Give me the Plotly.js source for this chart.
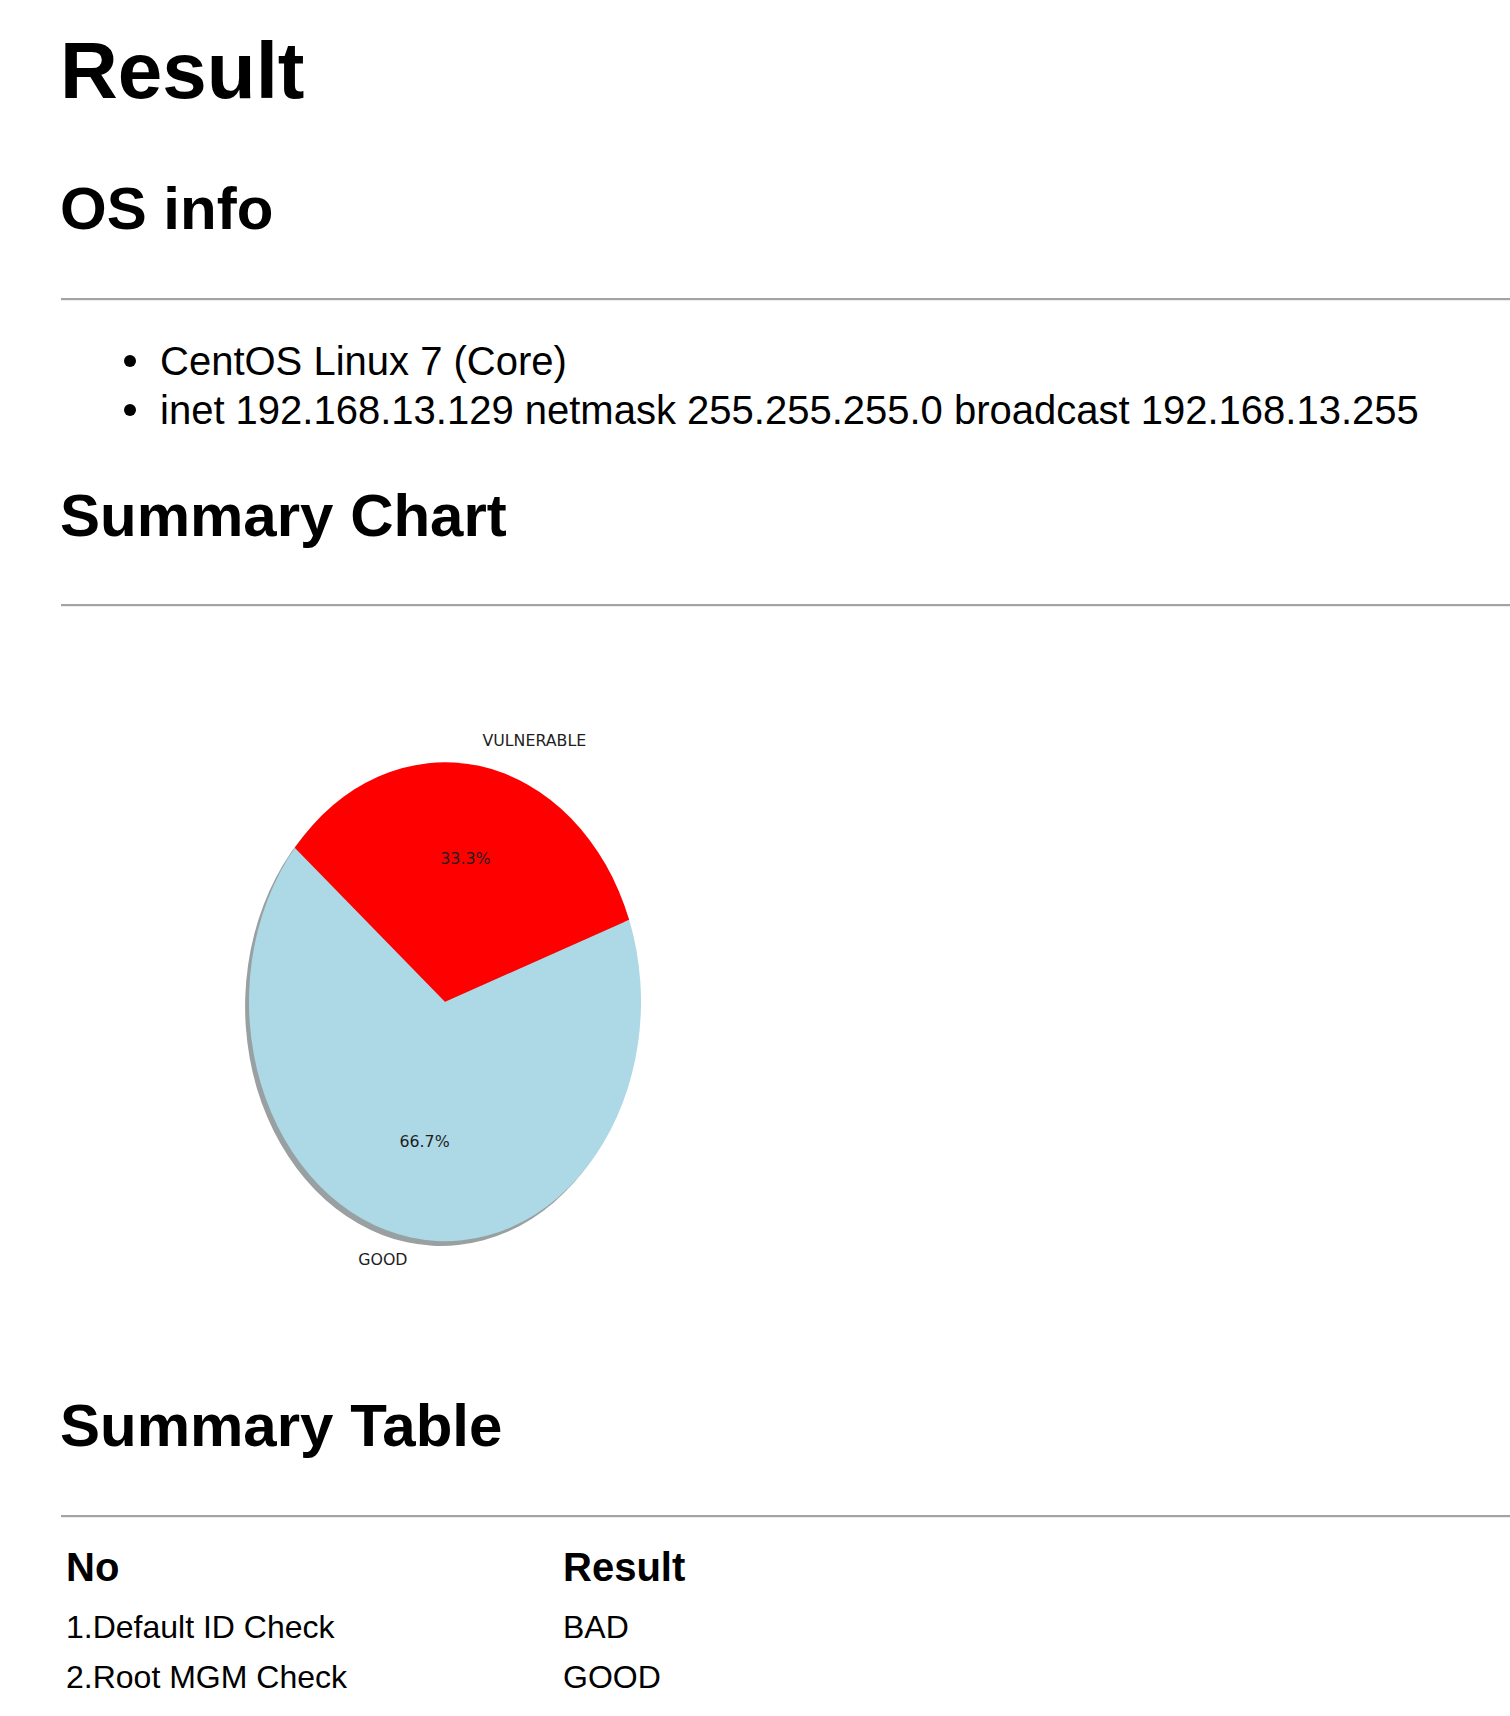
<!DOCTYPE html>
<html>
<head>
<meta charset="utf-8">
<script src="https://cdn.plot.ly/plotly-3.0.1.min.js"></script>
<style>
html, body { margin:0; padding:0; background:#fff; width:1510px; height:1716px; overflow:hidden; }
body { position:relative; font-family:"Liberation Sans", Arial, Helvetica, sans-serif; color:#000; }
.t { position:absolute; white-space:nowrap; line-height:1; margin:0; padding:0; }
.h1 { font-size:80px; font-weight:bold; }
.h2 { font-size:60px; font-weight:bold; }
.li { font-size:40px; }
.th { font-size:40px; font-weight:bold; }
.td { font-size:32px; }
.hr { position:absolute; left:61px; width:1449px; height:0; border-top:2px solid #a3a3a3; border-bottom:1px solid #ececec; }
.dot { position:absolute; width:12px; height:12px; border-radius:50%; background:#000; }
#pie { position:absolute; left:239px; top:749.8px; width:412px; height:412px; transform:scaleY(1.2219); transform-origin:0 0; }
#pielabels { position:absolute; left:145px; top:701.5px; width:600px; height:600px; z-index:2; }
</style>
</head>
<body>
<div id="page"></div>
<div id="pie"></div>
<div id="pielabels"></div>
<script>
// ---- data ----
const pageTitle = 'Result';
const sectionTitles = ['OS info', 'Summary Chart', 'Summary Table'];
const osInfo = ['CentOS Linux 7 (Core)', 'inet 192.168.13.129 netmask 255.255.255.0 broadcast 192.168.13.255'];
const pieLabels = ['GOOD', 'VULNERABLE'];
const pieCounts = [2, 1];
const tableHeader = ['No', 'Result'];
const checkNames = ['1.Default ID Check', '2.Root MGM Check', '3.Passwd File Check'];
const checkResults = ['BAD', 'GOOD', 'GOOD'];

// ---- style / layout ----
const pieColors = ['lightblue', 'red'];
const shadowColors = ['rgb(153,160,162)', 'rgb(166,128,128)'];
const startAngle = 140;      // degrees, counter-clockwise from 3 o'clock (as in the source chart)
const labelDist = 1.1, pctDist = 0.6;
const rx = 196, ry = 239.5;  // pie radii in px (elliptical source)

const page = document.getElementById('page');
function addText(cls, text, left, top) {
  const d = document.createElement('div');
  d.className = 't ' + cls;
  d.textContent = text;
  d.style.left = left + 'px';
  d.style.top = top + 'px';
  page.appendChild(d);
}
function addHr(top) {
  const d = document.createElement('div');
  d.className = 'hr';
  d.style.top = top + 'px';
  page.appendChild(d);
}
function addDot(cx, cy) {
  const d = document.createElement('div');
  d.className = 'dot';
  d.style.left = (cx - 6) + 'px';
  d.style.top = (cy - 6) + 'px';
  page.appendChild(d);
}

addText('h1', pageTitle, 60, 31);
addText('h2', sectionTitles[0], 60, 179);
addHr(298);
const liTops = [341, 390.3];
osInfo.forEach((s, i) => { addDot(129.7, liTops[i] + 20); addText('li', s, 160, liTops[i]); });
addText('h2', sectionTitles[1], 60, 486);
addHr(604);
addText('h2', sectionTitles[2], 60, 1396);
addHr(1515);
addText('th', tableHeader[0], 66, 1547);
addText('th', tableHeader[1], 563, 1547);
checkNames.forEach((n, i) => {
  const top = 1611 + i * 50.3;
  addText('td', n, 66, top);
  addText('td', checkResults[i], 563, top);
});

// ---- pie ----
const total = pieCounts.reduce((a, b) => a + b, 0);
// first slice spans [startAngle, startAngle + share] counter-clockwise; plotly clockwise rotation from 12 o'clock
let rot = 90 - (startAngle + 360 * pieCounts[0] / total);
rot = ((rot % 360) + 540) % 360 - 180;

const S = 412;
const mainDom = [10 / S, 402 / S];
const shadDom = [6.1 / S, 398.1 / S];
const pieBase = { type: 'pie', values: pieCounts, labels: pieLabels, sort: false,
  direction: 'clockwise', rotation: rot, textinfo: 'none', hoverinfo: 'skip', showlegend: false };

Plotly.newPlot('pie', [
  Object.assign({}, pieBase, { marker: { colors: shadowColors }, domain: { x: shadDom, y: shadDom } }),
  Object.assign({}, pieBase, { marker: { colors: pieColors }, domain: { x: mainDom, y: mainDom } })
], {
  width: S, height: S, autosize: false, margin: { l: 0, r: 0, t: 0, b: 0 },
  paper_bgcolor: 'rgba(0,0,0,0)', plot_bgcolor: 'rgba(0,0,0,0)', showlegend: false
}, { staticPlot: true, displayModeBar: false });

// ---- pie labels (positions derived from the data, matplotlib-style) ----
let cum = 0;
const lx = [], ly = [], lpos = [], px = [], py = [], ptxt = [];
pieCounts.forEach((v) => {
  const mid = (startAngle + 360 * (cum + v / 2) / total) * Math.PI / 180;
  cum += v;
  const c = Math.cos(mid), s = Math.sin(mid);
  lx.push(labelDist * c); ly.push(labelDist * s);
  lpos.push(c >= 0 ? 'middle right' : 'middle left');
  px.push(pctDist * c); py.push(pctDist * s);
  ptxt.push((100 * v / total).toFixed(1) + '%');
});
const lblFont = { family: 'DejaVu Sans, sans-serif', size: 15.8, color: '#1e1e1e' };
Plotly.newPlot('pielabels', [
  { type: 'scatter', mode: 'text', x: lx, y: ly, text: pieLabels, textposition: lpos,
    textfont: lblFont, hoverinfo: 'skip', cliponaxis: false, showlegend: false },
  { type: 'scatter', mode: 'text', x: px, y: py, text: ptxt, textposition: 'middle center',
    textfont: lblFont, hoverinfo: 'skip', cliponaxis: false, showlegend: false }
], {
  width: 600, height: 600, autosize: false, margin: { l: 0, r: 0, t: 0, b: 0 },
  paper_bgcolor: 'rgba(0,0,0,0)', plot_bgcolor: 'rgba(0,0,0,0)', showlegend: false,
  xaxis: { range: [-300 / rx, 300 / rx], visible: false, fixedrange: true },
  yaxis: { range: [-300 / ry, 300 / ry], visible: false, fixedrange: true }
}, { staticPlot: true, displayModeBar: false });
</script>
</body>
</html>
